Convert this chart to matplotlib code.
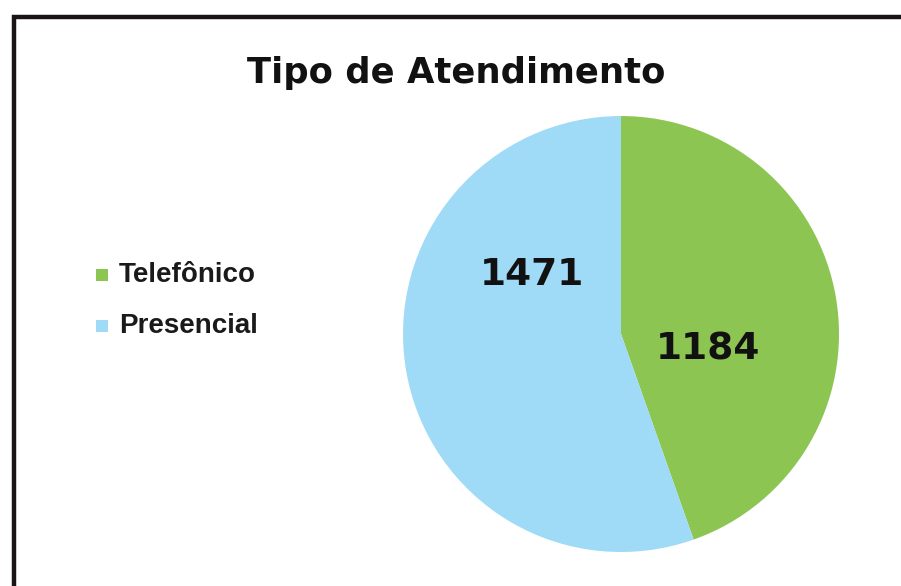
import matplotlib
matplotlib.use("Agg")
import matplotlib.pyplot as plt
from matplotlib.patches import Rectangle

title = "Tipo de Atendimento"
categories = ["Telefônico", "Presencial"]
values = [1184, 1471]
colors = ["#8DC553", "#9FDAF7"]

fig = plt.figure(figsize=(9.01, 5.86), dpi=100)
fig.patch.set_facecolor("white")

# border
fig.patches.append(Rectangle((14/901, -0.1), 1.2, (586-17)/586 + 0.1, transform=fig.transFigure,
                             fill=False, edgecolor="#1a1418", linewidth=3.2))

ax = fig.add_axes([0.4473, 0.058, 0.4839, 0.744])
wedges, _ = ax.pie(values, colors=colors, startangle=90, counterclock=False,
                   wedgeprops=dict(linewidth=0))
ax.set_xlim(-1, 1)
ax.set_ylim(-1, 1)
ax.set_aspect("equal")

label_pos = [(0.399, -0.07), (-0.41, 0.27)]
for v, (x, y) in zip(values, label_pos):
    ax.text(x, y, str(v), ha="center", va="center", fontsize=27,
            fontweight="bold", family="DejaVu Sans", color="#111111")

fig.text(456/901, 1 - 70.5/586, title, ha="center", va="baseline", fontsize=25.5,
         fontweight="bold", family="DejaVu Sans", color="#111111",
         transform=fig.transFigure)
# adjust: baseline at y=83
fig.texts[-1].set_y(1 - 83/586)

legend_y = [275, 326]
for c, lab, y in zip(colors, categories, legend_y):
    fig.patches.append(Rectangle((96/901, 1 - (y + 6)/586), 12/901, 12/586,
                                 transform=fig.transFigure, facecolor=c, edgecolor="none"))
    fig.text(119/901, 1 - y/586, lab, ha="left", va="center", fontsize=20,
             fontweight="bold", family="Liberation Sans", color="#1a1a1a")

fig.savefig("out.png", dpi=100)
